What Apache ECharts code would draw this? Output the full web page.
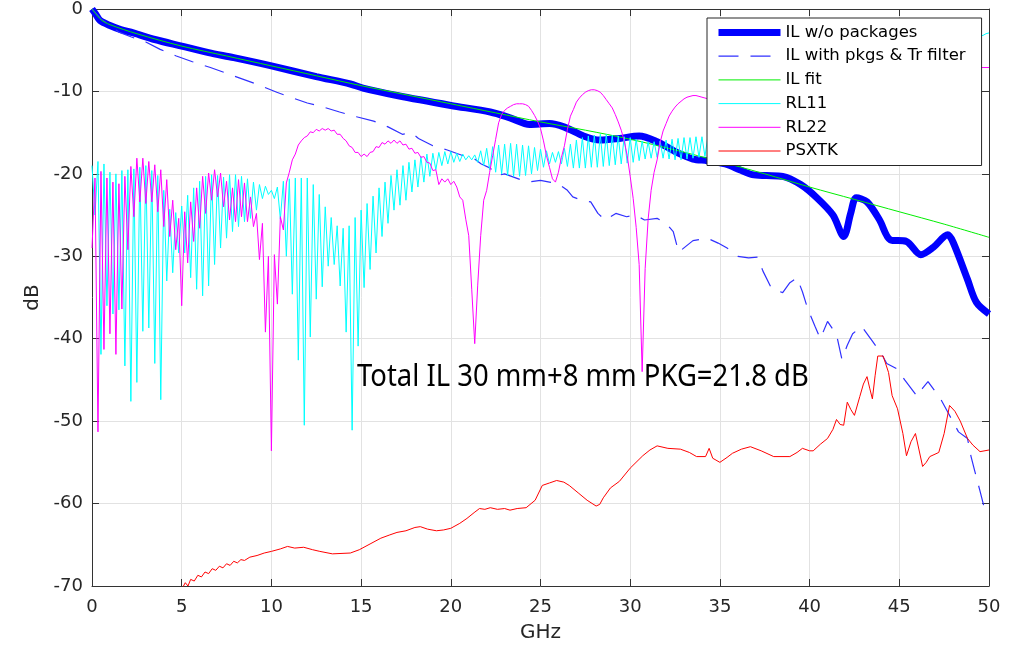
<!DOCTYPE html>
<html>
<head>
<meta charset="utf-8">
<title>IL / RL / PSXTK</title>
<script src="https://cdn.jsdelivr.net/npm/echarts@6/dist/echarts.min.js"></script>
<style>
  html, body { margin: 0; padding: 0; background: #fff; }
  #chart { width: 1018px; height: 648px; }
</style>
</head>
<body>
<div id="chart"></div>
<script>
// legend names, in plot order
var seriesNames = ["IL w/o packages", "IL with pkgs & Tr filter", "IL fit", "RL11", "RL22", "PSXTK"];
var xTicks = [0, 5, 10, 15, 20, 25, 30, 35, 40, 45, 50];
var yTicks = [-70, -60, -50, -40, -30, -20, -10, 0];

// insertion loss without packages [GHz, dB]
var ilNoPkg = [
  [0, 0], [0.2, -0.6], [0.45, -1.4], [1, -2.0], [1.6, -2.5], [2.3, -2.9], [3.5, -3.7], [5, -4.5],
  [6.5, -5.3], [7.9, -5.9], [10, -6.9], [12.5, -8.2], [14.4, -9.1], [15.1, -9.6], [17, -10.5],
  [20, -11.7], [22.2, -12.5], [23.3, -13.2], [24.4, -14.0], [25.5, -13.9], [26.3, -14.3],
  [27.4, -15.4], [28.3, -15.9], [29.4, -15.7], [30.5, -15.4], [31.5, -16.1], [32.6, -17.4],
  [33.5, -18.2], [34.3, -18.4], [35.3, -18.8], [36.1, -19.5], [36.8, -20.1], [37.6, -20.2],
  [38.5, -20.3], [39.5, -21.3], [40.4, -22.9], [41.3, -25.0], [41.9, -27.6], [42.3, -24.7],
  [42.6, -22.9], [43.2, -23.4], [43.9, -25.6], [44.5, -28.0], [45.4, -28.2], [46.2, -29.8],
  [46.9, -28.9], [47.7, -27.4], [48.0, -28.3], [48.8, -32.8], [49.3, -35.6], [50, -37.0]
];

// insertion loss with packages & Tr filter [GHz, dB]
var ilPkg = [
  [0, 0], [0.5, -1.2], [1, -2.0], [1.5, -2.8], [2.2, -3.4], [3, -4.0], [3.8, -4.9], [4.7, -5.7],
  [5.6, -6.4], [6.6, -7.1], [7.5, -7.8], [8.4, -8.5], [9.4, -9.3], [10.3, -10.1], [11.2, -10.8],
  [12, -11.4], [12.9, -11.9], [13.8, -12.5], [14.8, -13.1], [15.7, -13.6], [16.5, -14.3],
  [17.3, -15.2], [17.8, -15.0], [18.2, -15.7], [19, -16.6], [19.8, -17.1], [20.7, -17.8],
  [21.2, -18.0], [21.7, -18.8], [22.2, -19.3], [22.6, -20.2], [23.0, -20.0], [23.5, -20.4],
  [24.0, -20.8], [24.3, -21.0], [25.0, -20.8], [25.5, -21.0], [26.0, -21.2], [26.5, -22.0],
  [26.8, -22.8], [27.3, -23.2], [27.8, -23.4], [28.2, -24.8], [28.6, -25.6], [29.2, -24.8],
  [29.8, -25.2], [30.3, -25.0], [30.8, -25.6], [31.5, -25.4], [32.0, -26.0], [32.4, -27.0],
  [32.7, -29.5], [33.1, -28.8], [33.5, -28.1], [34.3, -27.8], [34.9, -28.4], [35.4, -29.0],
  [36.0, -30.0], [36.6, -30.2], [37.1, -30.1], [37.4, -31.8], [37.9, -34.0], [38.5, -34.4],
  [38.9, -33.2], [39.3, -32.6], [39.6, -34.3], [39.9, -36.4], [40.3, -38.5], [40.6, -40.0],
  [41.0, -37.9], [41.5, -39.5], [41.8, -42.5], [42.1, -40.8], [42.4, -39.4], [42.9, -38.5],
  [43.5, -40.3], [44.0, -41.8], [44.3, -43.0], [44.9, -43.7], [45.3, -45.0], [46.0, -47.0],
  [46.3, -46.0], [46.6, -45.2], [47.3, -47.3], [47.7, -48.9], [48.3, -51.3], [48.8, -52.1],
  [49.0, -54.3], [49.2, -56.0], [49.5, -58.5], [49.7, -60.2], [50, -61.2]
];

// fitted IL [GHz, dB]
var ilFit = [
  [0, 0], [0.5, -1.3], [1, -1.9], [2.5, -3.0], [5, -4.5], [7.5, -5.7], [10, -6.9], [12.5, -8.1],
  [15, -9.3], [17.5, -10.4], [20, -11.5], [22.5, -12.6], [25, -13.7], [27.5, -14.7], [30, -15.8],
  [32.5, -17.1], [35, -18.5], [37.5, -20.0], [40, -21.6], [42.5, -23.1], [45, -24.6],
  [47.5, -26.1], [50, -27.7]
];

// return loss, one value every 1/6 GHz from 0 to 50 (one row = 2 GHz)
var rlStep = 1 / 6;
var rl11 = [
  -19.0, -25.0, -18.5, -41.9, -18.8, -36.0, -19.8, -37.0, -20.0, -36.5, -19.6, -43.3,
  -19.5, -47.6, -19.4, -45.3, -19.2, -39.1, -19.0, -38.7, -19.6, -43.0, -20.2, -47.4,
  -22.0, -33.0, -24.3, -32.0, -24.7, -29.6, -23.9, -29.6, -22.6, -32.6, -21.7, -34.0,
  -20.9, -34.8, -20.3, -33.6, -20.1, -31.0, -20.2, -29.0, -20.4, -27.8, -20.1, -27.0,
  -20.1, -26.4, -20.3, -25.8, -20.6, -25.4, -21.0, -24.4, -21.3, -23.0, -21.5, -22.5,
  -22.0, -23.0, -21.6, -25.5, -20.9, -30.0, -20.6, -34.6, -20.5, -42.6, -20.5, -50.5,
  -20.5, -39.8, -21.3, -35.2, -22.5, -33.7, -24.0, -31.2, -25.3, -31.0, -26.3, -33.6,
  -26.6, -39.2, -26.3, -51.1, -25.3, -40.9, -24.4, -33.8, -23.6, -31.6, -22.7, -29.6,
  -21.7, -27.6, -21.0, -26.0, -20.2, -24.4, -19.5, -23.8, -19.0, -23.2, -18.6, -22.2,
  -18.3, -21.6, -17.9, -21.0, -17.6, -20.3, -17.5, -19.5, -17.4, -19.0, -17.3, -18.8,
  -17.3, -18.6, -17.5, -18.5, -17.6, -18.3, -17.8, -18.3, -17.7, -18.6, -17.2, -19.0,
  -16.9, -19.5, -16.7, -19.8, -16.5, -20.0, -16.4, -20.2, -16.3, -20.3, -16.4, -20.3,
  -16.5, -20.2, -16.6, -20.0, -16.8, -19.6, -17.0, -19.2, -17.2, -18.8, -17.4, -18.6,
  -17.3, -18.8, -16.9, -19.1, -16.4, -19.3, -15.9, -19.3, -15.6, -19.3, -15.4, -19.2,
  -15.3, -19.2, -15.2, -19.1, -15.2, -19.0, -15.3, -18.9, -15.4, -18.8, -15.5, -18.7,
  -15.6, -18.6, -15.8, -18.4, -16.0, -18.2, -16.1, -18.1, -16.1, -18.0, -16.0, -18.1,
  -15.9, -18.2, -15.8, -18.3, -15.7, -18.3, -15.6, -18.2, -15.6, -18.1, -15.5, -18.0,
  -15.5, -17.9, -15.4, -17.8, -15.3, -17.6, -15.2, -17.4, -15.0, -17.2, -14.8, -17.0,
  -14.6, -16.8, -14.4, -16.6, -14.2, -16.4, -14.0, -16.2, -13.8, -16.0, -13.6, -15.8,
  -13.4, -15.6, -13.2, -15.4, -13.0, -15.2, -12.8, -15.0, -12.6, -14.8, -12.4, -14.6,
  -12.2, -14.3, -11.9, -14.0, -11.6, -13.7, -11.3, -13.4, -11.0, -13.1, -10.7, -12.8,
  -10.4, -12.4, -10.0, -12.0, -9.6, -11.6, -9.2, -11.2, -8.8, -10.8, -8.4, -10.4,
  -8.0, -10.0, -7.6, -9.6, -7.2, -9.2, -6.8, -8.8, -6.4, -8.4, -6.0, -8.0,
  -5.7, -7.6, -5.4, -7.2, -5.1, -6.8, -4.8, -6.4, -4.5, -6.0, -4.2, -5.6,
  -4.2, -5.2, -3.9, -4.8, -3.7, -4.4, -3.5, -3.9, -3.4, -3.3, -3.2, -3.0,
  -2.9
];
var rl22 = [
  -29.0, -20.5, -51.3, -19.7, -41.3, -20.5, -39.4, -21.0, -41.9, -21.2, -36.4, -20.3,
  -29.2, -19.1, -25.2, -18.1, -23.4, -18.1, -23.6, -18.5, -23.4, -18.9, -24.6, -19.5,
  -26.4, -20.7, -27.6, -23.2, -29.2, -25.4, -36.0, -24.6, -30.8, -23.4, -28.2, -21.7,
  -26.6, -20.3, -24.8, -19.9, -23.2, -19.5, -22.8, -19.9, -24.0, -20.9, -25.6, -21.7,
  -25.8, -20.7, -25.2, -21.1, -25.8, -22.8, -26.4, -24.8, -30.4, -26.0, -39.2, -30.0,
  -53.6, -29.8, -35.8, -25.2, -26.8, -21.1, -19.8, -18.3, -17.6, -16.5, -16.0, -15.6,
  -15.4, -14.9, -15.0, -14.6, -14.8, -14.5, -14.7, -14.5, -14.8, -14.7, -15.2, -15.2,
  -15.7, -16.0, -16.6, -16.8, -17.4, -17.4, -17.9, -17.6, -17.9, -17.4, -17.3, -16.7,
  -16.8, -16.2, -16.4, -16.0, -16.3, -15.9, -16.3, -16.0, -16.5, -16.4, -17.0, -16.9,
  -17.5, -17.4, -18.0, -17.9, -18.6, -18.7, -19.6, -19.5, -21.3, -20.6, -21.0, -20.6,
  -21.3, -20.9, -21.6, -22.8, -23.2, -25.5, -27.5, -34.0, -40.6, -33.5, -27.5, -23.2,
  -22.0, -19.8, -17.8, -15.8, -13.8, -12.8, -12.3, -12.0, -11.8, -11.6, -11.5, -11.5,
  -11.5, -11.6, -11.8, -12.3, -12.9, -13.6, -14.5, -16.0, -17.8, -19.2, -20.6, -21.0,
  -19.8, -18.0, -16.6, -14.6, -13.0, -12.2, -11.3, -10.8, -10.4, -10.1, -9.9, -9.8,
  -9.8, -9.9, -10.1, -10.5, -11.0, -11.5, -12.0, -12.8, -13.7, -14.7, -16.0, -17.8,
  -20.3, -23.0, -26.5, -31.0, -44.0, -31.5, -25.5, -22.0, -19.8, -18.3, -16.2, -14.8,
  -13.9, -13.0, -12.4, -11.9, -11.5, -11.2, -10.9, -10.7, -10.6, -10.5, -10.5, -10.6,
  -10.7, -10.8, -10.9, -11.1, -11.4, -11.8, -12.3, -12.9, -13.6, -14.4, -15.3, -16.2,
  -16.8, -17.2, -17.4, -17.5, -17.4, -17.2, -16.8, -16.2, -15.5, -14.7, -13.9, -13.1,
  -12.4, -11.7, -11.1, -10.6, -10.1, -9.7, -9.4, -9.1, -8.9, -8.7, -8.6, -8.5,
  -8.4, -8.4, -8.4, -8.5, -8.6, -8.8, -9.0, -9.3, -9.6, -9.9, -10.2, -10.4,
  -10.6, -10.7, -10.7, -10.6, -10.4, -10.1, -9.8, -9.5, -9.2, -8.9, -8.6, -8.4,
  -8.2, -8.0, -7.9, -7.8, -7.8, -7.8, -7.9, -8.0, -8.1, -8.2, -8.2, -8.2,
  -8.1, -8.0, -7.9, -7.8, -7.6, -7.5, -7.4, -7.3, -7.2, -7.2, -7.1, -7.1,
  -7.1, -7.1, -7.1, -7.1, -7.1, -7.1, -7.1, -7.1, -7.1, -7.1, -7.1, -7.1,
  -7.1
];

// power sum crosstalk [GHz, dB]
var psxtk = [
  [4.95, -70.6], [5.2, -69.6], [5.35, -70.0], [5.5, -69.2], [5.7, -69.4], [5.9, -68.7], [6.1, -68.9],
  [6.3, -68.3], [6.5, -68.5], [6.7, -67.9], [6.9, -68.1], [7.1, -67.6], [7.3, -67.8], [7.5, -67.3],
  [7.7, -67.5], [7.9, -67.0], [8.1, -67.2], [8.3, -66.8], [8.5, -66.9], [8.8, -66.5], [9.2, -66.3],
  [9.6, -66.0], [10, -65.8], [10.5, -65.5], [10.9, -65.2], [11.3, -65.4], [11.8, -65.3],
  [12.3, -65.6], [12.7, -65.8], [13.4, -66.1], [14.4, -66.0], [14.9, -65.6], [15.5, -64.9],
  [16.1, -64.2], [16.6, -63.8], [17.0, -63.5], [17.5, -63.3], [18.0, -62.9], [18.3, -62.8],
  [18.7, -63.1], [19.2, -63.3], [19.6, -63.2], [20.0, -63.0], [20.5, -62.4], [20.9, -61.8],
  [21.3, -61.1], [21.6, -60.6], [21.9, -60.7], [22.2, -60.5], [22.6, -60.7], [23.0, -60.6],
  [23.3, -60.8], [23.7, -60.6], [24.2, -60.5], [24.7, -59.6], [25.1, -57.8], [25.5, -57.5],
  [25.9, -57.2], [26.3, -57.4], [26.6, -57.8], [27.1, -58.7], [27.6, -59.6], [28.1, -60.3],
  [28.3, -60.1], [28.5, -59.3], [28.9, -58.1], [29.4, -57.3], [30.0, -55.7], [30.7, -54.2],
  [31.1, -53.5], [31.5, -53.0], [32.1, -53.3], [32.8, -53.4], [33.3, -53.8], [33.7, -54.3],
  [34.2, -54.3], [34.4, -53.3], [34.6, -54.5], [35.0, -55.0], [35.4, -54.4], [35.7, -53.9],
  [36.2, -53.4], [36.7, -53.1], [37.3, -53.6], [38.0, -54.3], [38.9, -54.3], [39.3, -53.8],
  [39.6, -53.3], [40.0, -53.6], [40.2, -53.6], [40.6, -52.8], [41.0, -52.1], [41.3, -51.0],
  [41.5, -49.8], [41.7, -50.4], [41.9, -50.5], [42.1, -47.7], [42.3, -48.6], [42.5, -49.3],
  [42.8, -47.0], [43.0, -45.5], [43.2, -44.6], [43.35, -46.0], [43.5, -47.3], [43.65, -44.5],
  [43.8, -42.1], [44.1, -42.1], [44.4, -44.1], [44.6, -46.9], [44.9, -48.5], [45.2, -51.5],
  [45.4, -54.2], [45.65, -52.5], [45.9, -51.5], [46.1, -53.5], [46.3, -55.5], [46.5, -55.0],
  [46.7, -54.3], [47.2, -53.8], [47.5, -51.5], [47.8, -48.1], [48.1, -48.8], [48.4, -50.0],
  [48.8, -52.1], [49.1, -52.9], [49.5, -53.7], [50, -53.5]
];

var note = "Total IL 30 mm+8 mm PKG=21.8 dB";

(function () {
  var myChart = echarts.init(document.getElementById("chart"));
  var axisColor = "#333333";
  var labelColor = "#262626";
  var font = "DejaVu Sans";

  // RL arrays -> [GHz, dB] pairs on the sample grid
  function onGrid(vals) {
    return vals.map(function (v, i) { return [i * rlStep, v]; });
  }

  function line(name, data, color, width, dash, smooth) {
    return {
      name: name,
      type: "line",
      data: data,
      symbol: "none",
      smooth: smooth || false,
      silent: true,
      xAxisIndex: 0,
      yAxisIndex: 0,
      lineStyle: { color: color, width: width, type: dash || "solid" },
      itemStyle: { color: color }
    };
  }

  // MATLAB-like box: ticks inside on all four sides
  function boxAxis(pos, range, showLabel, name) {
    return {
      type: "value",
      position: pos,
      min: range[0],
      max: range[range.length - 1],
      interval: range[1] - range[0],
      name: name || "",
      nameLocation: "middle",
      nameGap: pos === "bottom" ? 37 : 48,
      nameTextStyle: { fontFamily: font, fontSize: 20, color: labelColor },
      axisLine: { show: true, onZero: false, lineStyle: { color: axisColor, width: 1 } },
      axisTick: { show: true, inside: true, length: 7, lineStyle: { color: axisColor } },
      axisLabel: {
        show: showLabel,
        fontFamily: font,
        fontSize: 18,
        color: labelColor,
        margin: pos === "bottom" ? 12 : 9
      },
      splitLine: { show: showLabel, lineStyle: { color: "#e2e2e2", width: 1 } }
    };
  }

  var option = {
    animation: false,
    backgroundColor: "#fff",
    grid: { left: 92, right: 29, top: 8, bottom: 60 },
    xAxis: [boxAxis("bottom", xTicks, true, "GHz"), boxAxis("top", xTicks, false)],
    yAxis: [boxAxis("left", yTicks, true, "dB"), boxAxis("right", yTicks, false)],
    legend: {
      data: seriesNames,
      orient: "vertical",
      left: 707,
      top: 18,
      padding: [6, 16, 6, 8],
      itemWidth: 62,
      itemHeight: 14,
      itemGap: 6.7,
      selectedMode: false,
      // line only, no marker in the middle; keep the series line widths
      itemStyle: { opacity: 0 },
      lineStyle: { width: "inherit" },
      backgroundColor: "#fff",
      borderColor: "#262626",
      borderWidth: 1,
      borderRadius: 0,
      textStyle: { fontFamily: font, fontSize: 16.5, color: "#000" }
    },
    graphic: [{
      type: "text",
      x: 357,
      y: 377,
      scaleX: 0.914,
      z: 100,
      style: {
        text: note,
        font: '30px "Noto Sans"',
        fill: "#000",
        verticalAlign: "middle"
      }
    }],
    series: [
      line(seriesNames[0], ilNoPkg, "#0000ff", 7, null, 0.3),
      line(seriesNames[1], ilPkg, "#3030ff", 1.2, [20, 12]),
      line(seriesNames[2], ilFit, "#00ee00", 1, null, 0.3),
      line(seriesNames[3], onGrid(rl11), "#00ffff", 1),
      line(seriesNames[4], onGrid(rl22), "#ff00ff", 1),
      line(seriesNames[5], psxtk, "#ff0000", 1)
    ]
  };

  myChart.setOption(option);
  window.addEventListener("resize", function () {
    myChart.resize();
  });
})();
</script>
</body>
</html>
